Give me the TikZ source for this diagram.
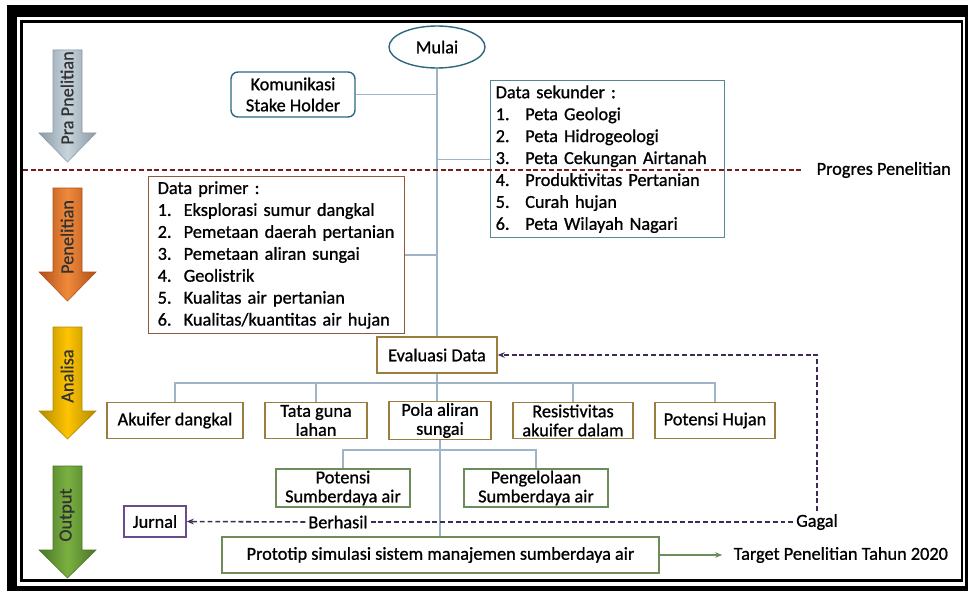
\documentclass[tikz,border=0pt]{standalone}
\usepackage{fontspec}
\setmainfont{Carlito}[FakeBold=0.9]
\usepackage{xcolor}
\usetikzlibrary{shapes.geometric,arrows.meta}

\definecolor{tealtua}{HTML}{2E6880}
\definecolor{garisbiru}{HTML}{A0B4C8}
\definecolor{coklat}{HTML}{8C5A3C}
\definecolor{zaitun}{HTML}{9B7D3F}
\definecolor{hijaukotak}{HTML}{6E8B5A}
\definecolor{ungu}{HTML}{6A4C8C}
\definecolor{merahtua}{HTML}{7A1A1A}
\definecolor{ungutua}{HTML}{3D2B55}
\definecolor{teksabu}{HTML}{333333}
\definecolor{abupanah}{HTML}{C8D4DC}
\definecolor{abutepi}{HTML}{8A9AA6}
\definecolor{oranyepanah}{HTML}{F08A3A}
\definecolor{oranyetepi}{HTML}{B0501A}
\definecolor{kuningpanah}{HTML}{FFC400}
\definecolor{kuningtepi}{HTML}{B08A00}
\definecolor{hijaupanah}{HTML}{7AB040}
\definecolor{hijautepi}{HTML}{4A7628}

\newcommand{\nomor}[2][21pt]{\makebox[#1][l]{#2}}

\begin{document}
\begin{tikzpicture}[x=0.025cm, y=-0.025cm, font=\fontsize{13}{15.6}\selectfont,
  >={Stealth[length=5pt,width=4pt]},
  kotak/.style={draw, rectangle, line width=1pt, inner sep=1pt, minimum height=0.9cm, align=center, font=\fontsize{13}{13.5}\selectfont},
  hubung/.style={draw=garisbiru, line width=0.8pt},
  putus/.style={dashed, line width=1.1pt, dash pattern=on 3.5pt off 2pt},
  panah/.style 2 args={draw=#2, line width=0.4pt, left color=#2, right color=#2, middle color=#1},
  labelpanah/.style={rotate=90, text=teksabu, inner sep=0pt}
]

\useasboundingbox (0,0) rectangle (968,591);

% Frame
\fill[black] (7,5) rectangle (968,591);
\fill[white] (17,17) rectangle (965,586);
\draw[line width=2pt] (21.5,21.5) rectangle (962,580.5);

% Stage arrows
\shade[panah={abupanah}{abutepi}] (53,50) -- (82,50) -- (82,133) -- (96,133) -- (67.5,162) -- (39,133) -- (53,133) -- cycle;
\shade[panah={oranyepanah}{oranyetepi}] (53,188) -- (82,188) -- (82,272) -- (96,272) -- (67.5,301) -- (39,272) -- (53,272) -- cycle;
\shade[panah={kuningpanah}{kuningtepi}] (53,327) -- (82,327) -- (82,411) -- (96,411) -- (67.5,439) -- (39,411) -- (53,411) -- cycle;
\shade[panah={hijaupanah}{hijautepi}] (53,466) -- (82,466) -- (82,550) -- (96,550) -- (67.5,578) -- (39,550) -- (53,550) -- cycle;
\node[labelpanah] (lblpra) at (67,98) {Pra Pnelitian};
\node[labelpanah] (lblpenelitian) at (67,237) {Penelitian};
\node[labelpanah] (lblanalisa) at (67,376) {Analisa};
\node[labelpanah] (lbloutput) at (67,515) {Output};

% Nodes
\node[draw=tealtua, ellipse, line width=1pt, minimum width=2.4cm, minimum height=1.05cm, inner sep=0pt] (mulai) at (437,47) {Mulai};
\node[draw=tealtua, rectangle, rounded corners=5pt, line width=1pt, minimum width=3.1cm, minimum height=1.125cm, inner sep=1pt, align=center, font=\fontsize{13}{15}\selectfont] (komunikasi) at (293,94.5) {Komunikasi\\Stake Holder};
\node[draw=tealtua!80, rectangle, line width=1pt, anchor=north west, minimum height=3.925cm, inner xsep=0.125cm, text width=5.6cm, align=left] (sekunder) at (490,80) {Data sekunder :\\
\nomor{1.}Peta Geologi\\
\nomor{2.}Peta Hidrogeologi\\
\nomor{3.}Peta Cekungan Airtanah\\
\nomor{4.}Produktivitas Pertanian\\
\nomor{5.}Curah hujan\\
\nomor{6.}Peta Wilayah Nagari};
\node[draw=coklat, rectangle, line width=1pt, anchor=north west, minimum height=3.875cm, inner xsep=0.225cm, text width=5.95cm, align=left] (primer) at (148,176) {Data primer :\\
\nomor[18.5pt]{1.}Eksplorasi sumur dangkal\\
\nomor[18.5pt]{2.}Pemetaan daerah pertanian\\
\nomor[18.5pt]{3.}Pemetaan aliran sungai\\
\nomor[18.5pt]{4.}Geolistrik\\
\nomor[18.5pt]{5.}Kualitas air pertanian\\
\nomor[18.5pt]{6.}Kualitas/kuantitas air hujan};

\node[kotak, draw=zaitun, minimum width=3.0cm] (evaluasi) at (437,355) {Evaluasi Data};
\node[kotak, draw=zaitun, minimum width=3.4cm] (akuifer) at (175,420.5) {Akuifer dangkal};
\node[kotak, draw=zaitun, minimum width=2.55cm] (tataguna) at (316,420.5) {Tata guna\\lahan};
\node[kotak, draw=zaitun, minimum width=2.55cm] (polaaliran) at (440,420.5) {Pola aliran\\sungai};
\node[kotak, draw=zaitun, minimum width=3.0cm] (resistivitas) at (573,420.5) {Resistivitas\\akuifer dalam};
\node[kotak, draw=zaitun, minimum width=3.0cm] (hujan) at (715,420.5) {Potensi Hujan};

\node[kotak, draw=hijaukotak, minimum width=3.35cm, minimum height=0.95cm] (potensisda) at (343,488) {Potensi\\Sumberdaya air};
\node[kotak, draw=hijaukotak, minimum width=3.6cm, minimum height=0.95cm] (pengelolaan) at (536,488) {Pengelolaan\\Sumberdaya air};

\node[kotak, draw=ungu, minimum width=1.55cm, minimum height=0.775cm] (jurnal) at (155,521.5) {Jurnal};
\node[inner sep=2pt] (berhasil) at (338,522) {Berhasil};
\node[inner sep=2pt] (gagal) at (817,522) {Gagal};

\node[kotak, draw=hijaukotak, minimum width=10.925cm] (prototip) at (440.5,555) {Prototip simulasi sistem manajemen sumberdaya air};
\node[anchor=west, inner sep=1pt] (target) at (732,555) {Target Penelitian Tahun 2020};

\node[anchor=west, inner sep=1pt] (progres) at (815,170) {Progres Penelitian};
\coordinate (kiriprogres) at (23,170);
\coordinate (bus1) at (437,383);
\coordinate (bus2) at (440,450);

% Connectors
\draw[hubung] (mulai.south) -- (evaluasi.north);
\draw[hubung] (komunikasi.east) -- (komunikasi.east -| mulai.south);
\draw[hubung] (sekunder.west) -- (sekunder.west -| mulai.south);
\draw[hubung] (primer.east) -- (primer.east -| mulai.south);
\draw[hubung] (evaluasi.south) -- (evaluasi.south |- polaaliran.north);
\draw[hubung] (akuifer.north) |- (bus1) -| (hujan.north);
\draw[hubung] (tataguna.north) -- (tataguna.north |- bus1);
\draw[hubung] (resistivitas.north) -- (resistivitas.north |- bus1);
\draw[hubung] (polaaliran.south) -- (polaaliran.south |- prototip.north);
\draw[hubung] (potensisda.north) |- (bus2) -| (pengelolaan.north);

% Progress line
\draw[putus, merahtua, shorten >=9pt] (kiriprogres) -- (progres.west);

% Feedback
\draw[putus, ungutua, ->] (gagal.north) |- (evaluasi.east);
\draw[putus, ungutua] (gagal.west) -- (berhasil.east);
\draw[putus, ungutua, ->] (berhasil.west) -- (jurnal.east);
\draw[hijaukotak, line width=0.8pt, ->, shorten >=7pt] (prototip.east) -- (target.west);

\end{tikzpicture}
\end{document}
